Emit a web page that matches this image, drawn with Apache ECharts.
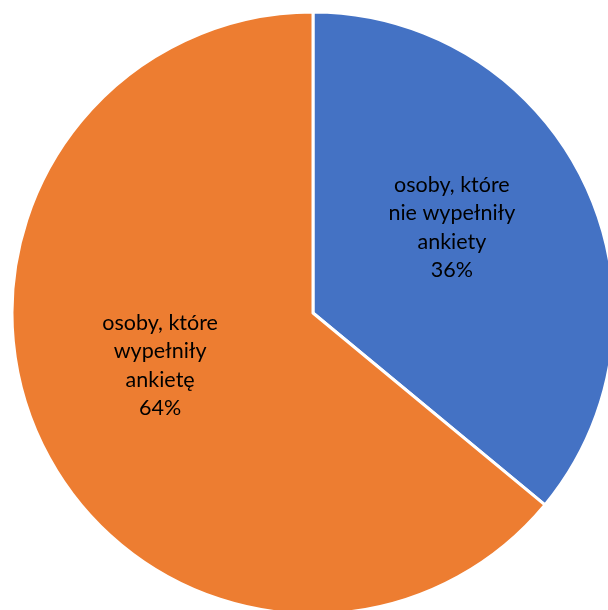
<!DOCTYPE html>
<html><head><meta charset="utf-8">
<script src="https://cdn.jsdelivr.net/npm/echarts@6/dist/echarts.min.js"></script>
<style>html,body{margin:0;padding:0;background:#fff}#c{width:608px;height:610px}</style>
</head><body><div id="c"></div>
<script>
var categories = ['osoby, które\nnie wypełniły\nankiety', 'osoby, które\nwypełniły\nankietę'];
var values = [36, 64];
var colors = ['#4472C4', '#ED7D31'];
var labelOffsets = [[0, -20], [-14, -13]];

var chart = echarts.init(document.getElementById('c'));
chart.setOption({
  animation: false,
  series: [{
    type: 'pie',
    center: [313, 313],
    radius: [0, 301],
    startAngle: 90,
    clockwise: true,
    itemStyle: { borderColor: '#fff', borderWidth: 3 },
    label: {
      position: 'inside',
      formatter: function (p) { return p.name + '\n' + p.value + '%'; },
      fontFamily: 'Lato',
      fontSize: 21.5,
      lineHeight: 28.5,
      color: '#000',
      align: 'center'
    },
    labelLine: { show: false },
    emphasis: { disabled: true },
    data: categories.map(function (n, i) {
      return { name: n, value: values[i], itemStyle: { color: colors[i] }, label: { offset: labelOffsets[i] } };
    })
  }]
});
</script></body></html>
